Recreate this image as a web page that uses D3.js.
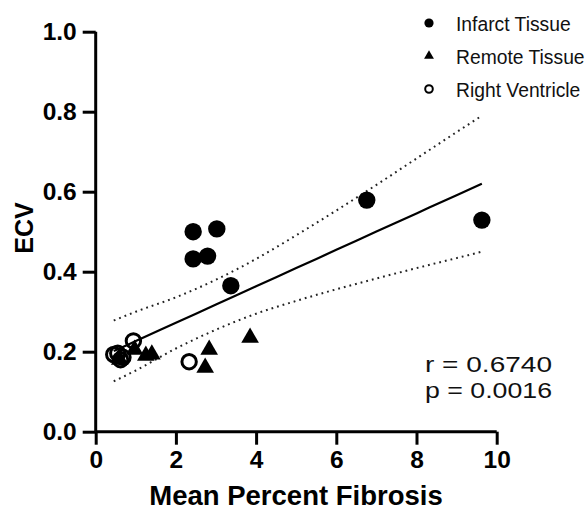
<!DOCTYPE html>
<html>
<head>
<meta charset="utf-8">
<script src="https://cdn.jsdelivr.net/npm/d3@7"></script>
<style>
  body { margin: 0; background: #fff; }
  text { font-family: "Liberation Sans", Arial, Helvetica, sans-serif; }
</style>
</head>
<body>
<svg id="chart" width="587" height="510"></svg>
<script>
// ---- data ----
const infarctX = [2.43, 3.02, 2.43, 2.79, 3.37, 6.76, 9.63];
const infarctY = [0.500, 0.507, 0.432, 0.439, 0.365, 0.579, 0.529];

const remoteX = [3.85, 2.83, 2.73, 1.40, 1.25, 0.97, 0.60];
const remoteY = [0.235, 0.205, 0.160, 0.193, 0.190, 0.205, 0.180];

const rvX = [2.33, 0.94, 0.45, 0.55, 0.62, 0.68];
const rvY = [0.175, 0.227, 0.193, 0.196, 0.180, 0.186];

// regression line & 95% band
const fitX   = [0.45, 1, 2, 3, 4, 5, 6, 7, 8, 9, 9.63];
const fitY   = [0.2015, 0.2266, 0.2722, 0.3178, 0.3634, 0.409, 0.4546, 0.5002, 0.5458, 0.5914, 0.620];
const upperY = [0.278, 0.300, 0.336, 0.380, 0.432, 0.491, 0.553, 0.617, 0.683, 0.749, 0.790];
const lowerY = [0.126, 0.153, 0.208, 0.255, 0.295, 0.327, 0.356, 0.383, 0.409, 0.434, 0.450];

const xTicks = [0, 2, 4, 6, 8, 10];
const yTicks = [0.0, 0.2, 0.4, 0.6, 0.8, 1.0];

const seriesNames = ["Infarct Tissue", "Remote Tissue", "Right Ventricle"];
const statLines = ["r = 0.6740", "p = 0.0016"];

// ---- drawing ----
const svg = d3.select("#chart");
const x = d3.scaleLinear().domain([0, 10]).range([95.7, 496.7]);
const y = d3.scaleLinear().domain([0, 1]).range([431.7, 31.7]);

// axes
const xAxis = d3.axisBottom(x).tickValues(xTicks).tickFormat(d3.format("d"))
  .tickSize(13).tickSizeOuter(0).tickPadding(6);
const yAxis = d3.axisLeft(y).tickValues(yTicks).tickFormat(d3.format(".1f"))
  .tickSize(13).tickSizeOuter(0).tickPadding(6);

const gx = svg.append("g").attr("transform", `translate(0,${y(0)})`).call(xAxis);
const gy = svg.append("g").attr("transform", `translate(${x(0)},0)`).call(yAxis);
[gx, gy].forEach(g => {
  g.select(".domain").attr("stroke", "#000").attr("stroke-width", 3);
  g.selectAll(".tick line").attr("stroke", "#000").attr("stroke-width", 3);
  g.selectAll(".tick text").attr("fill", "#000")
    .style("font-size", "24.5px").style("font-weight", "bold")
    .style("font-family", '"Liberation Sans", Arial, sans-serif');
});
gy.select(".domain").attr("d", `M0,${y(1)}V${y(0)}`);
gx.select(".domain").attr("d", `M${x(0)},0H${x(10)}`);

// axis titles
svg.append("text")
  .attr("transform", `translate(33,228) rotate(-90)`)
  .attr("text-anchor", "middle")
  .style("font-size", "25px").style("font-weight", "bold")
  .text("ECV");
svg.append("text")
  .attr("x", 296).attr("y", 505)
  .attr("text-anchor", "middle")
  .style("font-size", "27.5px").style("font-weight", "bold")
  .text("Mean Percent Fibrosis");

// bands and fit line
const fitData = fitX.map((v, i) => ({x: v, y: fitY[i], u: upperY[i], l: lowerY[i]}));
const lineGen = key => d3.line().curve(d3.curveMonotoneX).x(d => x(d.x)).y(d => y(d[key]));
["u", "l"].forEach(k => {
  svg.append("path").datum(fitData)
    .attr("d", lineGen(k))
    .attr("fill", "none").attr("stroke", "#222")
    .attr("stroke-width", 2).attr("stroke-dasharray", "1.8,4");
});
svg.append("path").datum(fitData)
  .attr("d", lineGen("y"))
  .attr("fill", "none").attr("stroke", "#000").attr("stroke-width", 2.2);

// points
const tri = d3.symbol().type(d3.symbolTriangle);
svg.append("g").selectAll("circle")
  .data(infarctX.map((v, i) => [v, infarctY[i]]))
  .join("circle")
  .attr("cx", d => x(d[0])).attr("cy", d => y(d[1])).attr("r", 8.7)
  .attr("fill", "#000");
svg.append("g").selectAll("path")
  .data(remoteX.map((v, i) => [v, remoteY[i]]))
  .join("path")
  .attr("d", tri.size(135)())
  .attr("transform", d => `translate(${x(d[0])},${y(d[1])})`)
  .attr("fill", "#000");
svg.append("g").selectAll("circle")
  .data(rvX.map((v, i) => [v, rvY[i]]))
  .join("circle")
  .attr("cx", d => x(d[0])).attr("cy", d => y(d[1])).attr("r", 7.2)
  .attr("fill", "none").attr("stroke", "#000").attr("stroke-width", 3);

// legend
const legY = [23, 56, 89];
const leg = svg.append("g");
leg.append("circle").attr("cx", 429).attr("cy", legY[0]).attr("r", 4.6).attr("fill", "#000");
leg.append("path").attr("d", d3.symbol().type(d3.symbolTriangle).size(42)())
  .attr("transform", `translate(429,${legY[1]})`).attr("fill", "#000");
leg.append("circle").attr("cx", 429).attr("cy", legY[2]).attr("r", 3.8)
  .attr("fill", "none").attr("stroke", "#000").attr("stroke-width", 2);
seriesNames.forEach((n, i) => {
  leg.append("text").attr("x", 456).attr("y", legY[i] + 7.5)
    .style("font-size", "19.3px").attr("fill", "#111").text(n);
});

// stats
statLines.forEach((s, i) => {
  svg.append("text").attr("x", 425).attr("y", 372.3 + i * 26)
    .attr("textLength", 127).attr("lengthAdjust", "spacingAndGlyphs")
    .style("font-size", "22px").attr("fill", "#111").text(s);
});
</script>
</body>
</html>
